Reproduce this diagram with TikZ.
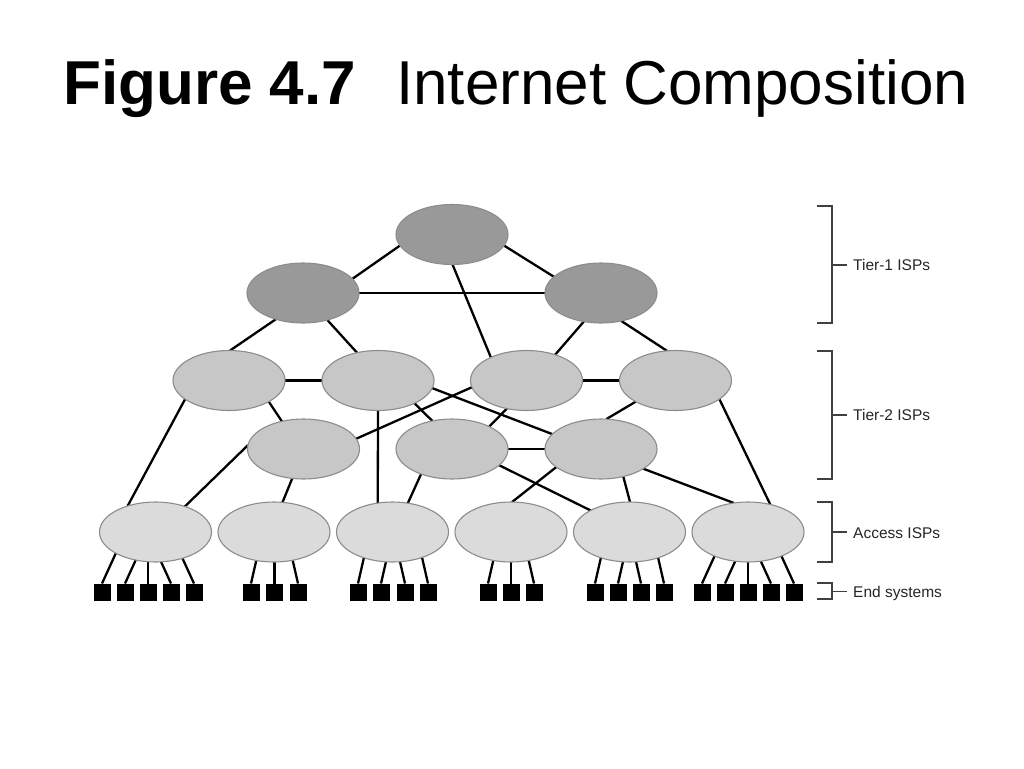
\documentclass[tikz,border=0pt]{standalone}
\usepackage{fontspec}
\setmainfont{Liberation Sans}
\usepackage{tikz}
\usetikzlibrary{shapes.geometric, backgrounds}
\pgfdeclarelayer{background}
\pgfsetlayers{background,main}
\definecolor{TierOne}{gray}{0.60}
\definecolor{TierTwo}{gray}{0.78}
\definecolor{TierAcc}{gray}{0.86}
\definecolor{Rim}{gray}{0.55}

\begin{document}
\begin{tikzpicture}[x=1pt, y=-1pt]

    \useasboundingbox (0,0) rectangle (1024,768);

    % ISP clouds
    \tikzset{isp/.style={draw = Rim, line width = 1.1pt, shape = ellipse, inner sep = 0pt, outer sep = 0pt, minimum width = 112pt, minimum height = 60pt}}
    \tikzset{ispA/.style={isp, fill = TierOne}}
    \tikzset{ispB/.style={isp, fill = TierTwo}}
    \tikzset{ispC/.style={isp, fill = TierAcc}}

    % End systems
    \tikzset{host/.style={shape = rectangle, fill = black, inner sep = 0pt, outer sep = 0pt, minimum size = 17pt}}

    % Links and brackets
    \tikzset{link/.style={draw = black, line width = 2.3pt}}
    \tikzset{brk/.style={draw = black!75, line width = 1.2pt}}
    \tikzset{lbl/.style={anchor = base west, inner sep = 0pt, text = black!85, font = \fontsize{15.5}{18}\selectfont}}

    % Title
    \node (title) [anchor = base west, inner sep = 0pt, font = \fontsize{62}{72}\selectfont] at (63, 104) {\textbf{Figure 4.7}\hspace{40pt}Internet Composition};

    % Tier-1 nodes
    \node (k) [ispA] at (452, 234.5) {};
    	\node (kl) [ispA] at (303, 293) {};
    	\node (kr) [ispA] at (601, 293) {};

    % Tier-2 nodes
    \node (m1) [ispB] at (229, 380.5) {};
    \node (m2) [ispB] at (378, 380.5) {};
    \node (m3) [ispB] at (526.5, 380.5) {};
    \node (m4) [ispB] at (675.5, 380.5) {};
    	\node (n1) [ispB] at (303.5, 449) {};
    	\node (n2) [ispB] at (452, 449) {};
    	\node (n3) [ispB] at (601, 449) {};

    % Access nodes
    \node (acc1) [ispC] at (155.5, 532) {};
    \node (acc2) [ispC] at (274, 532) {};
    \node (acc3) [ispC] at (392.5, 532) {};
    \node (acc4) [ispC] at (511, 532) {};
    \node (acc5) [ispC] at (629.5, 532) {};
    \node (acc6) [ispC] at (748, 532) {};

    % Hosts
    \node (h11) [host] at (102, 592) {};
    \node (h12) [host] at (125, 592) {};
    \node (h13) [host] at (148, 592) {};
    \node (h14) [host] at (171, 592) {};
    \node (h15) [host] at (194, 592) {};
    \node (h21) [host] at (251, 592) {};
    \node (h22) [host] at (274.5, 592) {};
    \node (h23) [host] at (298, 592) {};
    \node (h31) [host] at (358, 592) {};
    \node (h32) [host] at (381, 592) {};
    \node (h33) [host] at (405, 592) {};
    \node (h34) [host] at (428, 592) {};
    \node (h41) [host] at (488, 592) {};
    \node (h42) [host] at (511, 592) {};
    \node (h43) [host] at (534, 592) {};
    \node (h51) [host] at (595, 592) {};
    \node (h52) [host] at (618, 592) {};
    \node (h53) [host] at (641, 592) {};
    \node (h54) [host] at (664, 592) {};
    \node (h61) [host] at (702, 592) {};
    \node (h62) [host] at (725, 592) {};
    \node (h63) [host] at (748, 592) {};
    \node (h64) [host] at (771, 592) {};
    \node (h65) [host] at (794, 592) {};

    % Level labels
    \node (lt1) [lbl] at (853, 270.5) {Tier-1 ISPs};
    \node (lt2) [lbl] at (853, 420.5) {Tier-2 ISPs};
    \node (lacc) [lbl] at (853, 538) {Access ISPs};
    \node (lend) [lbl] at (853, 597) {End systems};

    % Brackets
    \path[brk] (817, 206) -- (832, 206) -- (832, 323) -- (817, 323);
    	\path[brk] (832, 265) -- (847, 265);
    \path[brk] (817, 351) -- (832, 351) -- (832, 479) -- (817, 479);
    	\path[brk] (832, 415) -- (847, 415);
    \path[brk] (817, 502) -- (832, 502) -- (832, 562) -- (817, 562);
    	\path[brk] (832, 532) -- (847, 532);
    \path[brk] (817, 583) -- (832, 583) -- (832, 599) -- (817, 599);
    	\path[brk] (832, 591.5) -- (847, 591.5);

    % Background image
    \begin{pgfonlayer}{background}

    	% Tier-1 links
    	\path[link] (k.192) -- (kl.16);
    	\path[link] (k.348) -- (kr.161);
    	\path[link] (kl.east) -- (kr.west);
    	\path[link] (k.271) -- (m3.147);
    		\path[link] (kl.224) -- (m1.88);
    		\path[link] (kl.312) -- (m2.127);
    		\path[link] (kr.239) -- (m3.42);
    		\path[link] (kr.306) -- (m4.106);

    	% Tier-2 links
    	\path[link] (m1.east) -- (m2.west);
    	\path[link] (m3.east) -- (m4.west);
    	\path[link] (n2.east) -- (n3.west);
    		\path[link] (m1.332) -- (n1.128);
    		\path[link] (m2.328) -- (n2.125);
    		\path[link] (m2.352) -- (n3.163);
    		\path[link] (m3.187) -- (n1.11);
    		\path[link] (m3.235) -- (n2.31);
    		\path[link] (m4.208) -- (n3.80);

    	% Access links
    	\path[link] (m1.203) -- (acc1.137);
    	\path[link] (m2.south) -- (acc3.117);
    	\path[link] (m4.337) -- (acc6.51);
    	\path[link] (n1.176) -- (acc1.41);
    	\path[link] (n1.249) -- (acc2.74);
    	\path[link] (n2.219) -- (acc3.62);
    	\path[link] (n2.341) -- (acc5.151);
    	\path[link] (n3.202) -- (acc4.88);
    	\path[link] (n3.309) -- (acc5.89);
    	\path[link] (n3.335) -- (acc6.116);

    	% Host links (ends hidden under the access clouds)
    	\path[link] (h11.north) -- ++(16, -35);
    	\path[link] (h12.north) -- ++(16, -35);
    	\path[link] (h13.north) -- ++(0, -35);
    	\path[link] (h14.north) -- ++(-16, -35);
    	\path[link] (h15.north) -- ++(-16, -35);
    	\path[link] (h21.north) -- ++(8, -35);
    	\path[link] (h22.north) -- ++(0, -35);
    	\path[link] (h23.north) -- ++(-8, -35);
    	\path[link] (h31.north) -- ++(8, -35);
    	\path[link] (h32.north) -- ++(8, -35);
    	\path[link] (h33.north) -- ++(-8, -35);
    	\path[link] (h34.north) -- ++(-8, -35);
    	\path[link] (h41.north) -- ++(8, -35);
    	\path[link] (h42.north) -- ++(0, -35);
    	\path[link] (h43.north) -- ++(-8, -35);
    	\path[link] (h51.north) -- ++(8, -35);
    	\path[link] (h52.north) -- ++(8, -35);
    	\path[link] (h53.north) -- ++(-8, -35);
    	\path[link] (h54.north) -- ++(-8, -35);
    	\path[link] (h61.north) -- ++(16, -35);
    	\path[link] (h62.north) -- ++(16, -35);
    	\path[link] (h63.north) -- ++(0, -35);
    	\path[link] (h64.north) -- ++(-16, -35);
    	\path[link] (h65.north) -- ++(-16, -35);

    \end{pgfonlayer}

\end{tikzpicture}
\end{document}
